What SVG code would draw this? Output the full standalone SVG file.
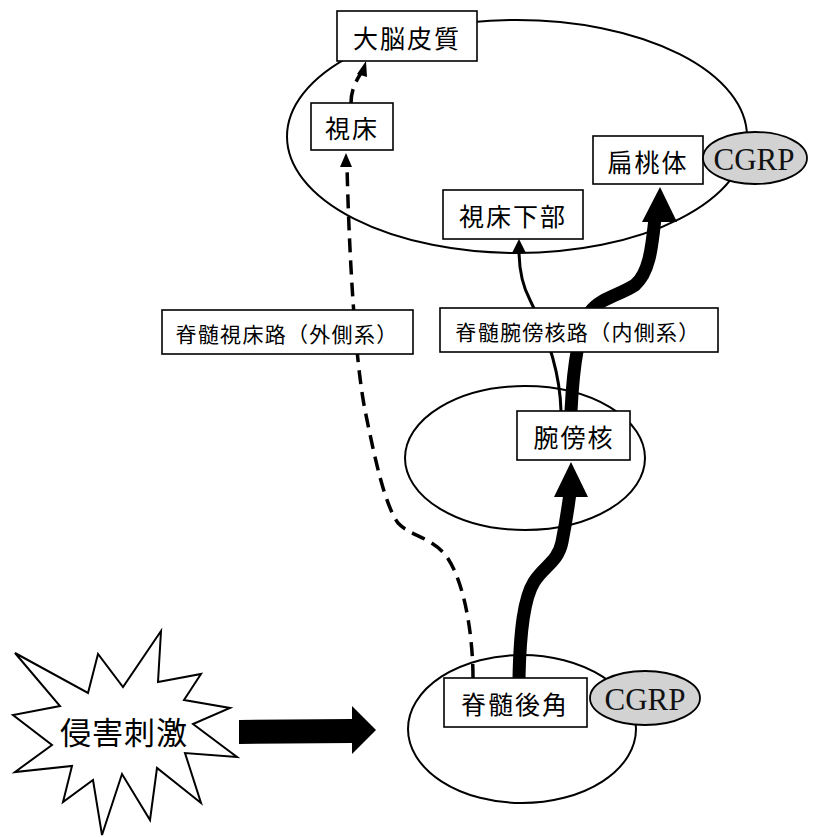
<svg xmlns="http://www.w3.org/2000/svg" width="814" height="837" viewBox="0 0 814 837">
<style>
.reg{fill:none;stroke:#000;stroke-width:2}
.box{fill:#fff;stroke:#000;stroke-width:1.6}
.jp{font-family:"Noto Sans CJK JP","Noto Sans",sans-serif;fill:#000;text-anchor:middle;dominant-baseline:central}
.cg{fill:#d2d2d2;stroke:#000;stroke-width:1.8}
.cgt{font-family:"Liberation Serif","Times New Roman",serif;font-size:31px;fill:#111;text-anchor:middle;dominant-baseline:central}
.thick{fill:none;stroke:#000;stroke-width:13}
.thin{fill:none;stroke:#000;stroke-width:3}
.dash{fill:none;stroke:#000;stroke-width:3.5;stroke-dasharray:14 8}
</style>
<rect width="814" height="837" fill="#fff"/>
<g id="regions">
<ellipse class="reg" cx="517" cy="136.5" rx="230" ry="116.5"/>
<ellipse class="reg" cx="525" cy="458" rx="120" ry="72"/>
<ellipse class="reg" cx="522" cy="729" rx="114" ry="74"/>
</g>
<g id="stimulus">
<polygon fill="#fff" stroke="#000" stroke-width="2" points="15,653 88,693 98,654 123,687 161,631 158,682 201,674 184,700 230,708 193,724 237,757 185,753 201,803 157,768 150,820 122,774 102,835 93,780 63,802 72,766 15,772 52,745 13,715 60,706"/>
<text class="jp" x="124" y="730" font-size="31" letter-spacing="1">侵害刺激</text>
</g>
<g id="connectors">
<polygon points="239,720 352,719 352,706 376,730 352,754 352,743 239,744" fill="#000"/>
<path class="thick" d="M519,678 C520,630 524,598 534,582 C544,566 558,562 562,542 C566,522 568,508 570,493"/>
<polygon points="554,497 571,462 588,497" fill="#000"/>
<path class="thick" d="M571,411 C573,370 578,330 590,312 C600,298 620,295 635,285 C650,272 652,245 655,218"/>
<polygon points="642,222 660,187 677,222" fill="#000"/>
<path class="thin" d="M561,411 C560,370 545,330 530,300 C522,285 519,270 519,250"/>
<polygon points="512,253 519,239 526,253" fill="#000"/>
<path class="dash" d="M473,678 C473,640 466,585 447,557 C432,537 410,536 398,523 C385,505 375,460 365,410 C355,360 349,250 347,166"/>
<polygon points="340,167 346,153 352,167" fill="#000"/>
<path class="dash" stroke-dasharray="10 6" d="M351,103 C351,90 356,81 361,73"/>
<polygon points="357,74 366,61 367,77" fill="#000"/>
</g>
<g id="daino-hishitsu">
<rect class="box" x="337" y="11" width="140" height="50"/>
<text class="jp" x="407" y="37" font-size="25" letter-spacing="2">大脳皮質</text>
</g>
<g id="shishou">
<rect class="box" x="311" y="103" width="82" height="47"/>
<text class="jp" x="352" y="127" font-size="25" letter-spacing="2">視床</text>
</g>
<g id="hentoutai">
<rect class="box" x="593" y="136" width="110" height="48"/>
<text class="jp" x="648" y="161" font-size="25" letter-spacing="2">扁桃体</text>
</g>
<g id="cgrp-top">
<ellipse class="cg" cx="755" cy="158" rx="52" ry="26"/>
<text class="cgt" x="754" y="159">CGRP</text>
</g>
<g id="shishou-kabu">
<rect class="box" x="443" y="190" width="140" height="49"/>
<text class="jp" x="513" y="215" font-size="25" letter-spacing="2">視床下部</text>
</g>
<g id="label-medial">
<rect class="box" x="440" y="308" width="278" height="44"/>
<text class="jp" x="578" y="331" font-size="21" letter-spacing="1.3">脊髄腕傍核路（内側系）</text>
</g>
<g id="label-lateral">
<rect class="box" x="162" y="310" width="251" height="44"/>
<text class="jp" x="287" y="333" font-size="21" letter-spacing="1.3">脊髄視床路（外側系）</text>
</g>
<g id="wanbou-kaku">
<rect class="box" x="517" y="411" width="113" height="49"/>
<text class="jp" x="574" y="436" font-size="25" letter-spacing="2">腕傍核</text>
</g>
<g id="sekizui-kokaku">
<rect class="box" x="444" y="678" width="143" height="49"/>
<text class="jp" x="515" y="703" font-size="25" letter-spacing="2">脊髄後角</text>
</g>
<g id="cgrp-bottom">
<ellipse class="cg" cx="645" cy="698" rx="55" ry="27"/>
<text class="cgt" x="645" y="699">CGRP</text>
</g>
</svg>
